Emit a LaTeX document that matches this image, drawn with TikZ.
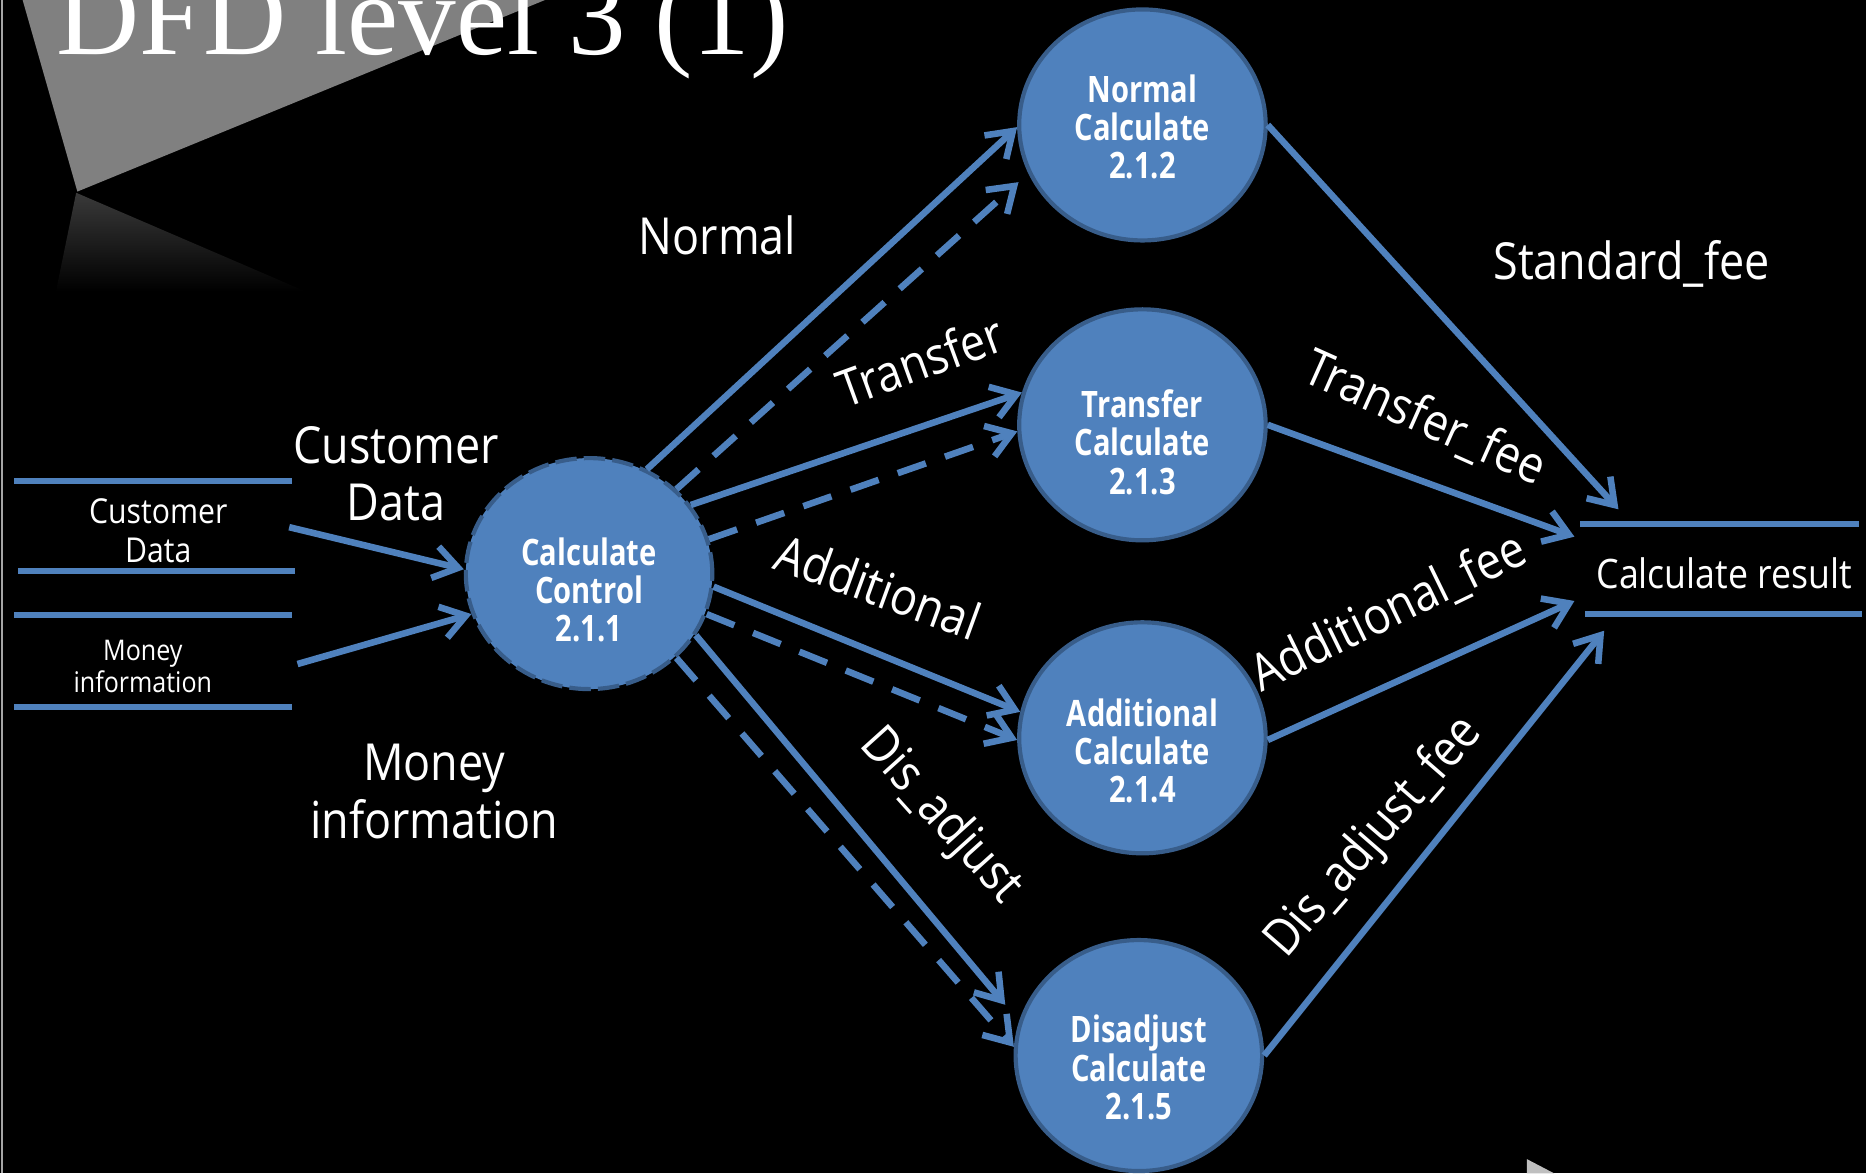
\documentclass[tikz,border=0pt]{standalone}
\usepackage{fontspec}
\setmainfont[FakeStretch=0.88]{Open Sans}
\newfontfamily\procfont[FakeStretch=0.8]{Open Sans}
\newfontfamily\titlefont{Liberation Serif}
\usepackage{tikz}
\usetikzlibrary{shapes.geometric,arrows.meta}
\definecolor{bleu}{HTML}{4F81BD}
\definecolor{bleufonce}{HTML}{385D8A}
\newcommand{\cale}[1]{\rule{0pt}{#1}}

\begin{document}
\begin{tikzpicture}[x=0.01cm, y=-0.01cm,
  proc/.style={ellipse, fill=bleu, draw=bleufonce, line width=0.035cm,
    minimum width=2.07cm, minimum height=1.94cm, inner sep=0pt,
    text=white, align=center, font=\procfont\bfseries\fontsize{8.7}{9.1}\selectfont},
  flux/.style={draw=bleu, line width=0.055cm, -{Straight Barb[length=0.2cm,width=0.27cm]}},
  ctl/.style={flux, dash pattern=on 0.25cm off 0.17cm},
  store/.style={draw=bleu, line width=0.05cm},
  lab/.style={text=white, align=center, inner sep=0pt, font=\fontsize{12.2}{13.7}\selectfont},
  slab/.style={text=white, align=center, inner sep=0pt}]
  \useasboundingbox (0,0) rectangle (1568,986);
  % Fond.
  \fill[black] (0,0) rectangle (1568,986);
  \draw[gray!70, line width=0.02cm] (1.5,0) -- (1.5,986);
  \fill[gray] (19,0) -- (458,0) -- (65,161) -- cycle;
  \shade[top color=gray!45!black, bottom color=black] (64,162) -- (47,245) -- (257,245) -- cycle;
  \fill[gray!50!white] (1283,974) -- (1306,986) -- (1283,986) -- cycle;
  \node[anchor=base west, inner sep=0pt, text=white, font=\titlefont\fontsize{27.5}{30}\selectfont] at (47,46) (titre) {DFD level 3 (1)};

  % Magasins.
  \draw[store] (12,404) -- (245,404);
  \draw[store] (15,480) -- (248,480);
  \node[slab, font=\fontsize{8.2}{9.1}\selectfont] at (133,446) (cust) {Customer\\Data};
  \draw[store] (12,517) -- (245,517);
  \draw[store] (12,594) -- (245,594);
  \node[slab, font=\fontsize{6.8}{7.7}\selectfont] at (120,560) (money) {Money\\information};
  \draw[store] (1328,440) -- (1562,440);
  \draw[store] (1332,516) -- (1565,516);
  \node[slab, font=\fontsize{9.7}{11}\selectfont] at (1449,482) (result) {Calculate result};

  % Processus.
  \node[proc, dash pattern=on 0.18cm off 0.06cm] at (495,482) (ctrl) {\cale{14.6pt}Calculate\\Control\\2.1.1};
  \node[proc] at (960,105) (norm) {\cale{7.7pt}Normal\\Calculate\\2.1.2};
  \node[proc] at (960,357) (trans) {\cale{15pt}Transfer\\Calculate\\2.1.3};
  \node[proc] at (960,620) (addl) {\cale{12.9pt}Additional\\Calculate\\2.1.4};
  \node[proc] at (957,887) (disadj) {\cale{12.3pt}Disadjust\\Calculate\\2.1.5};

  % Entrees.
  \coordinate (custout) at (243,443);
  \coordinate (moneyout) at (250,558);
  \draw[flux] (custout) -- (ctrl.178);
  \draw[flux] (moneyout) -- (ctrl.199);

  % Sorties du controle.
  \draw[flux] (ctrl.61) -- (norm.181);
  \draw[ctl, shorten >=0.11cm] (ctrl.44) -- (norm.203);
  \draw[flux] (ctrl.34) -- (trans.165);
  \draw[ctl] (ctrl.16) -- (trans.183);
  \draw[flux] (ctrl.-6) -- (addl.168);
  \draw[ctl] (ctrl.-19) -- (addl.181);
  \draw[flux, shorten >=0.18cm] (ctrl.-30) -- (disadj.164);
  \draw[ctl] (ctrl.-44) -- (disadj.176);

  % Vers le resultat.
  \coordinate (r1) at (1360,428);
  \coordinate (r2) at (1323,451);
  \coordinate (r3) at (1323,505);
  \coordinate (r4) at (1348,530);
  \draw[flux] (norm.0) -- (r1);
  \draw[flux] (trans.0) -- (r2);
  \draw[flux] (addl.-1) -- (r3);
  \draw[flux] (disadj.0) -- (r4);

  % Etiquettes.
  \node[lab] at (333,398) (lcust) {Customer\\Data};
  \node[lab] at (365,665) (lmoney) {Money\\information};
  \node[lab] at (603,198) (lnorm) {Normal};
  \node[lab, rotate=20] at (773,303) (ltrans) {Transfer};
  \node[lab, rotate=-20] at (738,493) (laddl) {Additional};
  \node[lab, rotate=-48] at (790,686) (ldis) {Dis\_adjust};
  \node[lab] at (1371,222) (lstd) {Standard\_fee};
  \node[lab, rotate=-24] at (1197,352) (ltfee) {Transfer\_fee};
  \node[lab, rotate=26] at (1167,515) (lafee) {Additional\_fee};
  \node[lab, rotate=49] at (1155,704) (ldfee) {Dis\_adjust\_fee};
\end{tikzpicture}
\end{document}
